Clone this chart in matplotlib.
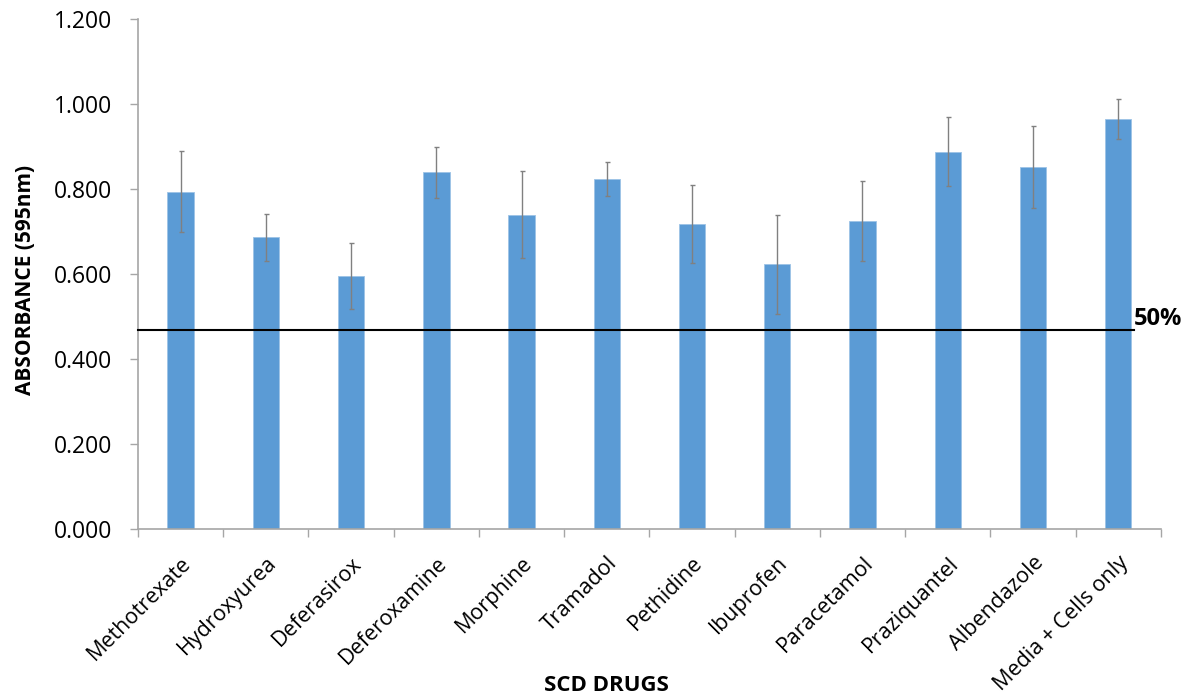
import numpy as np
import matplotlib
matplotlib.use('Agg')
import matplotlib.pyplot as plt

plt.rcParams['font.family'] = ['Open Sans', 'DejaVu Sans']

# Absorbance per drug (mean and error)
drugs = ['Methotrexate', 'Hydroxyurea', 'Deferasirox', 'Deferoxamine', 'Morphine',
         'Tramadol', 'Pethidine', 'Ibuprofen', 'Paracetamol', 'Praziquantel',
         'Albendazole', 'Media + Cells only']
absorbance = [0.794, 0.686, 0.595, 0.840, 0.740, 0.823,
              0.718, 0.623, 0.725, 0.888, 0.852, 0.964]
err = [0.095, 0.055, 0.078, 0.060, 0.103, 0.040,
       0.092, 0.117, 0.094, 0.081, 0.097, 0.047]
half_line = 0.468   # 50% reference level

fig = plt.figure(figsize=(11.93, 6.97), dpi=100)
ax = fig.add_axes([0.1157, 0.241, 0.8573, 0.7317])

x = np.arange(len(drugs))
ax.bar(x, absorbance, width=0.31, color='#5B9BD5', edgecolor='#9DC3E6',
       linewidth=0.6, zorder=2)
ax.errorbar(x, absorbance, yerr=err, fmt='none', ecolor='#808080',
            elinewidth=1.0, capsize=1.8, capthick=1.0, zorder=3)

# 50% line, stops at the last bar
ax.plot([-0.5, x[-1] + 0.18], [half_line, half_line], color='black', lw=1.5,
        zorder=4, clip_on=False)
ax.text(x[-1] + 0.18, half_line + 0.012, '50%', fontsize=17, fontweight='bold',
        ha='left', va='baseline')

ax.set_xlim(-0.5, len(drugs) - 0.5)
ax.set_ylim(0, 1.2)
yt = np.arange(0, 1.21, 0.2)
ax.set_yticks(yt)
ax.set_yticklabels([f'{v:.3f}' for v in yt], fontsize=16.5)

# Excel-style ticks between categories
ax.set_xticks(np.arange(-0.5, len(drugs), 1.0))
ax.set_xticklabels([])
ax.set_xticks(x, minor=True)
ax.set_xticklabels(drugs, minor=True, rotation=45, ha='right',
                   rotation_mode='anchor', fontsize=15.5)
ax.tick_params(axis='x', which='minor', length=0, pad=17)
ax.tick_params(axis='x', which='major', length=6, color='#a6a6a6', width=1)
ax.tick_params(axis='y', length=6, color='#a6a6a6', width=1, pad=12.5)

for s in ['top', 'right']:
    ax.spines[s].set_visible(False)
for s in ['left', 'bottom']:
    ax.spines[s].set_color('#a6a6a6')
    ax.spines[s].set_linewidth(1.2)

fig.text(0.021, 0.598, 'ABSORBANCE (595nm)', fontsize=15, fontweight='bold',
         rotation=90, ha='center', va='center')
fig.text(0.508, 0.017, 'SCD DRUGS', fontsize=16, fontweight='bold',
         ha='center', va='center')

fig.savefig('out.png', dpi=100)
